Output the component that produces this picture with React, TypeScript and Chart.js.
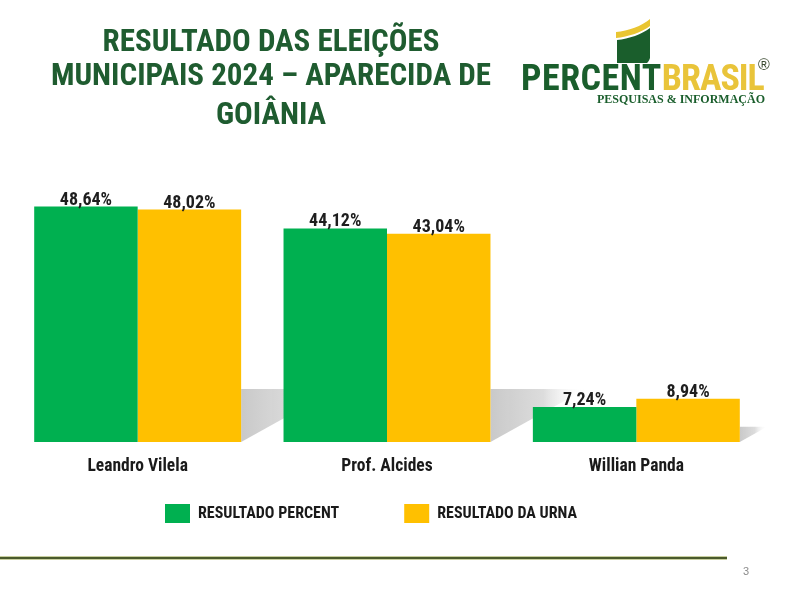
import React, { useEffect, useRef } from 'react';
import { Chart, registerables } from 'chart.js';

Chart.register(...registerables);

const categories = ['Leandro Vilela', 'Prof. Alcides', 'Willian Panda'];
const percentValues = [48.64, 44.12, 7.24];
const urnaValues = [48.02, 43.04, 8.94];
const seriesLabels = ['RESULTADO PERCENT', 'RESULTADO DA URNA'];
const seriesColors = ['#00B050', '#FFC000'];

const NARROW = '"Roboto Condensed", "Open Sans Condensed", "Liberation Sans", Arial, sans-serif';

const fmt = (v: number) => v.toFixed(2).replace('.', ',') + '%';

const shadowPlugin = {
  id: 'barShadow',
  beforeDatasetsDraw(chart: any) {
    const meta = chart.getDatasetMeta(1);
    const ctx = chart.ctx;
    ctx.save();
    meta.data.forEach((bar: any) => {
      const { x, y, base, width } = bar.getProps(['x', 'y', 'base', 'width'], true);
      const right = x + width / 2;
      const h = Math.min(53, (base - y) * 0.35);
      const top = base - h;
      const len = h * 1.8;
      const g = ctx.createLinearGradient(right, 0, right + len, 0);
      g.addColorStop(0, 'rgba(198,198,198,0.95)');
      g.addColorStop(0.55, 'rgba(208,208,208,0.75)');
      g.addColorStop(1, 'rgba(255,255,255,0)');
      ctx.fillStyle = g;
      ctx.beginPath();
      ctx.moveTo(right, top);
      ctx.lineTo(right + len, top);
      ctx.lineTo(right, base);
      ctx.closePath();
      ctx.fill();
    });
    ctx.restore();
  },
};

const valueLabelPlugin = {
  id: 'valueLabels',
  afterDatasetsDraw(chart: any) {
    const ctx = chart.ctx;
    ctx.save();
    ctx.font = `bold 18px ${NARROW}`;
    ctx.fillStyle = '#1e1e1e';
    ctx.textAlign = 'center';
    ctx.textBaseline = 'alphabetic';
    chart.data.datasets.forEach((ds: any, di: number) => {
      chart.getDatasetMeta(di).data.forEach((bar: any, i: number) => {
        ctx.fillText(fmt(ds.data[i]), bar.x, bar.y - 2);
      });
    });
    ctx.restore();
  },
};

const legendPlacePlugin = {
  id: 'legendPlace',
  afterLayout(chart: any) {
    const l = chart.legend;
    if (!l) return;
    const w = l.right - l.left;
    l.left = 100;
    l.right = 100 + w;
    const h = l.bottom - l.top;
    l.top = 439;
    l.bottom = 439 + h;
  },
};

function BarChart() {
  const ref = useRef<HTMLCanvasElement>(null);
  useEffect(() => {
    if (!ref.current) return;
    const chart = new Chart(ref.current, {
      type: 'bar',
      data: {
        labels: categories,
        datasets: [
          {
            label: seriesLabels[0],
            data: percentValues,
            backgroundColor: seriesColors[0],
            borderWidth: 0,
            categoryPercentage: 0.83,
            barPercentage: 1,
          },
          {
            label: seriesLabels[1],
            data: urnaValues,
            backgroundColor: seriesColors[1],
            borderWidth: 0,
            categoryPercentage: 0.83,
            barPercentage: 1,
          },
        ],
      },
      options: {
        responsive: false,
        animation: false,
        devicePixelRatio: 1,
        layout: { padding: { left: 13, right: 39, top: 200, bottom: 15 } },
        scales: {
          x: {
            grid: { display: false, drawTicks: false },
            border: { display: false },
            ticks: {
              color: '#1a1a1a',
              padding: 14,
              font: { family: NARROW, size: 17.5, weight: 'bold' },
            },
          },
          y: { display: false, min: 0, max: 50 },
        },
        plugins: {
          legend: {
            position: 'bottom',
            align: 'start',
            labels: {
              boxWidth: 25,
              boxHeight: 19,
              padding: 65,
              color: '#1a1a1a',
              font: { family: NARROW, size: 16, weight: 'bold' },
            },
          },
          tooltip: { enabled: false },
        },
      },
      plugins: [shadowPlugin, valueLabelPlugin, legendPlacePlugin],
    });
    return () => chart.destroy();
  }, []);
  return (
    <canvas
      ref={ref}
      width={800}
      height={600}
      style={{ position: 'absolute', left: 0, top: 0, width: 800, height: 600, display: 'block' }}
    />
  );
}

export default function App() {
  return (
    <div style={{ position: 'absolute', left: 0, top: 0, width: 800, height: 600, background: '#fff', overflow: 'hidden' }}>
      <BarChart />
      <div
        style={{
          position: 'absolute',
          left: 0,
          top: 24,
          width: 542,
          textAlign: 'center',
          fontFamily: NARROW,
          fontWeight: 'bold',
          fontSize: 31,
          lineHeight: '34px',
          color: '#1F5C30',
          whiteSpace: 'nowrap',
        }}
      >
        <div>RESULTADO DAS ELEIÇÕES</div>
        <div>MUNICIPAIS 2024 – APARECIDA DE</div>
        <div style={{ marginTop: 5 }}>GOIÂNIA</div>
      </div>
      {/* logo */}
      <svg style={{ position: 'absolute', left: 616, top: 18 }} width={36} height={47} viewBox="0 0 36 47">
        <path d="M0,14 C12,13 26,8 34,1 L34,8 C26,14 12,19 0,20 Z" fill="#E9C531" />
        <path d="M1,22 C13,21 26,16 34,10 L34,40 C33,43 32,44 31,45 L1,45 Z" fill="#1A5E2C" />
      </svg>
      <div
        style={{
          position: 'absolute',
          left: 521,
          top: 60,
          fontFamily: NARROW,
          fontWeight: 'bold',
          fontSize: 36,
          lineHeight: '36px',
          whiteSpace: 'nowrap',
        }}
      >
        <span style={{ color: '#1A5E2C', letterSpacing: '0.5px' }}>PERCENT</span>
        <span style={{ color: '#E9C43A', letterSpacing: '-1px' }}>BRASIL</span>
      </div>
      <div
        style={{
          position: 'absolute',
          left: 758,
          top: 57,
          fontFamily: '"Liberation Sans", Arial, sans-serif',
          fontSize: 16,
          lineHeight: '16px',
          color: '#3a4a30',
        }}
      >
        ®
      </div>
      <div
        style={{
          position: 'absolute',
          left: 597,
          top: 93,
          fontFamily: '"Liberation Serif", "DejaVu Serif", serif',
          fontWeight: 'bold',
          fontSize: 12,
          lineHeight: '12px',
          color: '#1A5E2C',
          whiteSpace: 'nowrap',
        }}
      >
        PESQUISAS &amp; INFORMAÇÃO
      </div>
      {/* footer */}
      <div
        style={{
          position: 'absolute',
          left: 0,
          top: 556,
          width: 727,
          height: 2,
          background: '#4A5A2C',
          borderTop: '1px solid #C9CFA0',
          borderBottom: '1px solid #C9CFA0',
        }}
      />
      <div
        style={{
          position: 'absolute',
          left: 743,
          top: 565,
          fontFamily: '"Liberation Sans", sans-serif',
          fontSize: 11,
          lineHeight: '12px',
          color: '#8c8c8c',
        }}
      >
        3
      </div>
    </div>
  );
}
